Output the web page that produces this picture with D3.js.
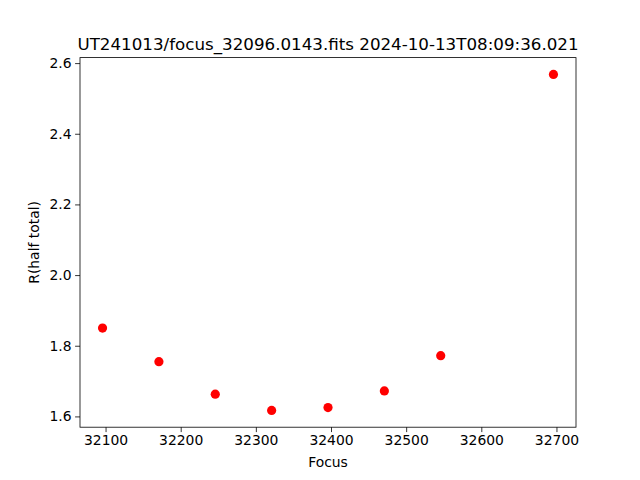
<!DOCTYPE html>
<html><head><meta charset="utf-8">
<script src="https://cdn.jsdelivr.net/npm/d3@7"></script>
<style>body{margin:0;background:#fff}svg{display:block}text{font-family:"DejaVu Sans",sans-serif;fill:#000}</style>
</head><body><svg id="c" width="640" height="480"></svg>
<script>
const focus = [32096, 32171, 32246, 32321, 32396, 32471, 32546, 32696];
const radius = [1.850, 1.755, 1.663, 1.617, 1.625, 1.672, 1.772, 2.568];
const xTicks = [32100, 32200, 32300, 32400, 32500, 32600, 32700];
const yTicks = [1.6, 1.8, 2.0, 2.2, 2.4, 2.6];
const title = "UT241013/focus_32096.0143.fits 2024-10-13T08:09:36.021";

const svg = d3.select("#c");
const L = 80, R = 576, T = 57.6, B = 427.2;
const pad = (ext) => { const d = ext[1]-ext[0]; return [ext[0]-0.05*d, ext[1]+0.05*d]; };
const x = d3.scaleLinear().domain(pad(d3.extent(focus))).range([L, R]);
const y = d3.scaleLinear().domain(pad(d3.extent(radius))).range([B, T]);

const xa = svg.append("g").attr("transform", `translate(0,${B})`)
  .call(d3.axisBottom(x).tickValues(xTicks).tickFormat(d3.format("d")).tickSize(4.9).tickPadding(3.5));
const ya = svg.append("g").attr("transform", `translate(${L},0)`)
  .call(d3.axisLeft(y).tickValues(yTicks).tickFormat(d3.format(".1f")).tickSize(4.9).tickPadding(3.5));
[xa, ya].forEach(a => {
  a.selectAll(".domain").remove();
  a.selectAll("line").attr("stroke", "#000").attr("stroke-width", 0.8);
  a.selectAll("text").attr("font-size", "13.9px").attr("font-family", "DejaVu Sans").attr("fill", "#000");
});
svg.append("rect").attr("x", L).attr("y", T).attr("width", R-L).attr("height", B-T)
  .attr("fill", "none").attr("stroke", "#000").attr("stroke-width", 0.8);

svg.append("g").selectAll("circle").data(focus).join("circle")
  .attr("cx", (d) => x(d)).attr("cy", (d, i) => y(radius[i])).attr("r", 4.6).attr("fill", "#ff0000");

svg.append("text").attr("x", (L+R)/2).attr("y", 50).attr("text-anchor", "middle")
  .attr("font-size", "16.7px").text(title);
svg.append("text").attr("x", (L+R)/2).attr("y", 467).attr("text-anchor", "middle")
  .attr("font-size", "13.9px").text("Focus");
svg.append("text").attr("transform", `translate(39,${(T+B)/2}) rotate(-90)`).attr("text-anchor", "middle")
  .attr("font-size", "13.9px").text("R(half total)");
</script></body></html>
